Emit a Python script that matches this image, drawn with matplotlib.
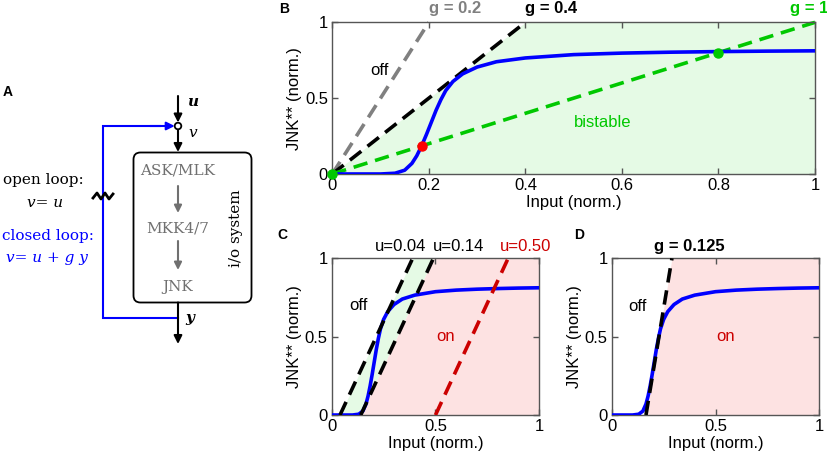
import numpy as np
import matplotlib
matplotlib.use("Agg")
import matplotlib.pyplot as plt
from matplotlib.patches import FancyBboxPatch, Circle

plt.rcParams['font.family'] = ['Liberation Sans', 'DejaVu Sans']

# ---------------- data ----------------
# steady-state dose response of JNK** vs input
input_x = [0.0, 0.10, 0.13, 0.15, 0.165, 0.175, 0.185, 0.195, 0.205, 0.215,
           0.225, 0.235, 0.25, 0.27, 0.30, 0.34, 0.40, 0.50, 0.60, 0.70,
           0.80, 0.90, 1.00]
jnk_y = [0.0, 0.0, 0.005, 0.025, 0.07, 0.12, 0.185, 0.26, 0.34, 0.42,
         0.49, 0.55, 0.61, 0.66, 0.705, 0.74, 0.765, 0.787, 0.797, 0.803,
         0.807, 0.81, 0.812]

# panel B: feedback gains (line y = x / g)
b_gains = [0.2, 0.4, 1.0]
b_gain_labels = ['g = 0.2', 'g = 0.4', 'g = 1']
b_gain_colors = ['#808080', 'black', '#00c800']
b_steady_x = [0.0, 0.185, 0.8]
b_steady_colors = ['#00c800', '#ff0000', '#00c800']

# panel C: fixed gain, various inputs u (line y = (x - u)/g)
c_gain = 0.35
c_inputs = [0.04, 0.14, 0.50]
c_labels = ['u=0.04', 'u=0.14', 'u=0.50']
c_colors = ['black', 'black', '#cc0000']

# panel D
d_gain = 0.125
d_input = 0.165
d_label = 'g = 0.125'

GREEN_FILL = '#e5fae5'
PINK_FILL = '#fde2e2'
FS = 12

fig = plt.figure(figsize=(8.27, 4.62), dpi=100)

# ---------------- overlay for diagram & panel letters (pixel coords) -------------
ov = fig.add_axes([0, 0, 1, 1])
ov.set_xlim(0, 827)
ov.set_ylim(462, 0)
ov.axis('off')

for lab, (px, py) in zip(['A', 'B', 'C', 'D'],
                         [(8, 92), (284, 9), (282, 235), (579, 235)]):
    ov.text(px, py, lab, fontsize=10, fontweight='bold', ha='center', va='center')

serif = 'DejaVu Serif'
GREY = '#707070'
BLUE = '#0000ff'


def arrow(x0, y0, x1, y1, color='black', lw=1.5, ms=12):
    ov.annotate('', xy=(x1, y1), xytext=(x0, y0),
                arrowprops=dict(arrowstyle='-|>', color=color, lw=lw,
                                mutation_scale=ms, shrinkA=0, shrinkB=0))


# input u
arrow(178, 96, 178, 122.5)
ov.add_patch(Circle((178, 126), 3.3, facecolor='white', edgecolor='black', lw=1.3, zorder=5))
arrow(178, 129.5, 178, 152)
ov.text(193, 102, 'u', fontsize=11, family=serif, style='italic', fontweight='bold',
        ha='center', va='center')
ov.text(193, 133, 'v', fontsize=11, family=serif, style='italic', ha='center', va='center')

# box
ov.add_patch(FancyBboxPatch((133.5, 152.5), 118, 150, boxstyle='round,pad=0,rounding_size=7',
                            facecolor='white', edgecolor='black', lw=1.3))
ov.text(178, 171, 'ASK/MLK', fontsize=11, family=serif, color=GREY, ha='center', va='center')
arrow(178, 186, 178, 213, color=GREY, lw=1.5, ms=11)
ov.text(178, 229, 'MKK4/7', fontsize=11, family=serif, color=GREY, ha='center', va='center')
arrow(178, 241, 178, 270, color=GREY, lw=1.5, ms=11)
ov.text(178, 287, 'JNK', fontsize=11, family=serif, color=GREY, ha='center', va='center')
ov.text(236, 228, 'i/o system', fontsize=11, family=serif, rotation=90,
        ha='center', va='center')

# output
arrow(178, 302.5, 178, 344)
ov.text(190, 318, 'y', fontsize=11, family=serif, style='italic', fontweight='bold',
        ha='center', va='center')

# feedback loop
ov.plot([178, 103, 103, 160], [318, 318, 126, 126], color=BLUE, lw=1.5,
        solid_joinstyle='miter')
arrow(150, 126, 174.7, 126, color=BLUE, lw=1.5, ms=12)

# switch squiggle
ov.plot([93, 97, 101, 105, 109, 113], [198, 193, 199, 193, 199, 194],
        color='black', lw=2.0, solid_joinstyle='round', zorder=6)

ov.text(43, 180, 'open loop:', fontsize=11, family=serif, ha='center', va='center')
ov.text(45, 203, 'v= u', fontsize=11, family=serif, style='italic', ha='center', va='center')
ov.text(1.5, 236, 'closed loop:', fontsize=11, family=serif, color=BLUE,
        ha='left', va='center')
ov.text(47, 258, 'v= u + g y', fontsize=11, family=serif, style='italic', color=BLUE,
        ha='center', va='center')


# ---------------- helper for panel axes ----------------
def style_axes(ax, xticks):
    ax.set_xlim(0, 1)
    ax.set_ylim(0, 1)
    ax.set_xticks(xticks)
    ax.set_yticks([0, 0.5, 1])
    ax.set_xticklabels(['0' if t == 0 else ('1' if t == 1 else f'{t:g}') for t in xticks])
    ax.set_yticklabels(['0', '0.5', '1'])
    ax.tick_params(direction='in', top=True, right=True, length=4, width=1,
                   colors='#555555', labelcolor='black', labelsize=FS, pad=3)
    for s in ax.spines.values():
        s.set_color('#555555')
        s.set_linewidth(1.0)
    ax.set_xlabel('Input (norm.)', fontsize=FS, labelpad=1)
    ax.set_ylabel('JNK** (norm.)', fontsize=FS, labelpad=2)


DASH = (4.0, 2.2)
LW_D = 2.6
LW_C = 2.6
yy = np.array([0.0, 1.0])

# ---------------- panel B ----------------
axB = fig.add_axes([0.4018, 0.6234, 0.5837, 0.3283])
axB.fill_betweenx(yy, b_gains[1] * yy, 1, color=GREEN_FILL, lw=0, zorder=0)
for g, c in zip(b_gains, b_gain_colors):
    axB.plot(g * yy, yy, color=c, lw=LW_D, dashes=DASH, zorder=2, clip_on=False)
axB.plot(input_x, jnk_y, color=BLUE, lw=LW_C, zorder=3)
for sx, sc in zip(b_steady_x, b_steady_colors):
    axB.plot([sx], [sx], 'o', color=sc, ms=6.5, zorder=4, clip_on=False)
for g, lab, c, xt in zip(b_gains, b_gain_labels, b_gain_colors, [0.2, 0.4, 0.948]):
    axB.text(xt, 1.094, lab, color=c, fontsize=FS, fontweight='bold',
             ha='left', va='center', clip_on=False)
axB.text(0.097, 0.68, 'off', fontsize=FS, ha='center', va='center')
axB.text(0.56, 0.34, 'bistable', fontsize=FS, color='#00c800', ha='center', va='center')
style_axes(axB, [0, 0.2, 0.4, 0.6, 0.8, 1])

# ---------------- panel C ----------------
axC = fig.add_axes([0.4011, 0.1017, 0.2510, 0.3392])
axC.fill_betweenx(yy, c_inputs[0] + c_gain * yy, c_inputs[1] + c_gain * yy,
                  color=GREEN_FILL, lw=0, zorder=0)
axC.fill_betweenx(yy, c_inputs[1] + c_gain * yy, 1, color=PINK_FILL, lw=0, zorder=0)
axC.plot(input_x, jnk_y, color=BLUE, lw=LW_C, zorder=3)
for u, c in zip(c_inputs, c_colors):
    axC.plot(u + c_gain * yy, yy, color=c, lw=LW_D, dashes=DASH, zorder=4)
for lab, c, xt in zip(c_labels, c_colors, [0.33, 0.613, 0.935]):
    axC.text(xt, 1.078, lab, color=c, fontsize=FS, ha='center', va='center', clip_on=False)
axC.text(0.128, 0.70, 'off', fontsize=FS, ha='center', va='center')
axC.text(0.55, 0.50, 'on', fontsize=FS, color='#cc0000', ha='center', va='center')
style_axes(axC, [0, 0.5, 1])

# ---------------- panel D ----------------
axD = fig.add_axes([0.7397, 0.1017, 0.2510, 0.3392])
axD.fill_betweenx(yy, d_input + d_gain * yy, 1, color=PINK_FILL, lw=0, zorder=0)
axD.plot(input_x, jnk_y, color=BLUE, lw=LW_C, zorder=3)
axD.plot(d_input + d_gain * yy, yy, color='black', lw=LW_D, dashes=DASH, zorder=4)
axD.text(0.375, 1.078, d_label, fontsize=FS, fontweight='bold', ha='center',
         va='center', clip_on=False)
axD.text(0.124, 0.695, 'off', fontsize=FS, ha='center', va='center')
axD.text(0.55, 0.50, 'on', fontsize=FS, color='#cc0000', ha='center', va='center')
style_axes(axD, [0, 0.5, 1])

fig.savefig('out.png', dpi=100)
